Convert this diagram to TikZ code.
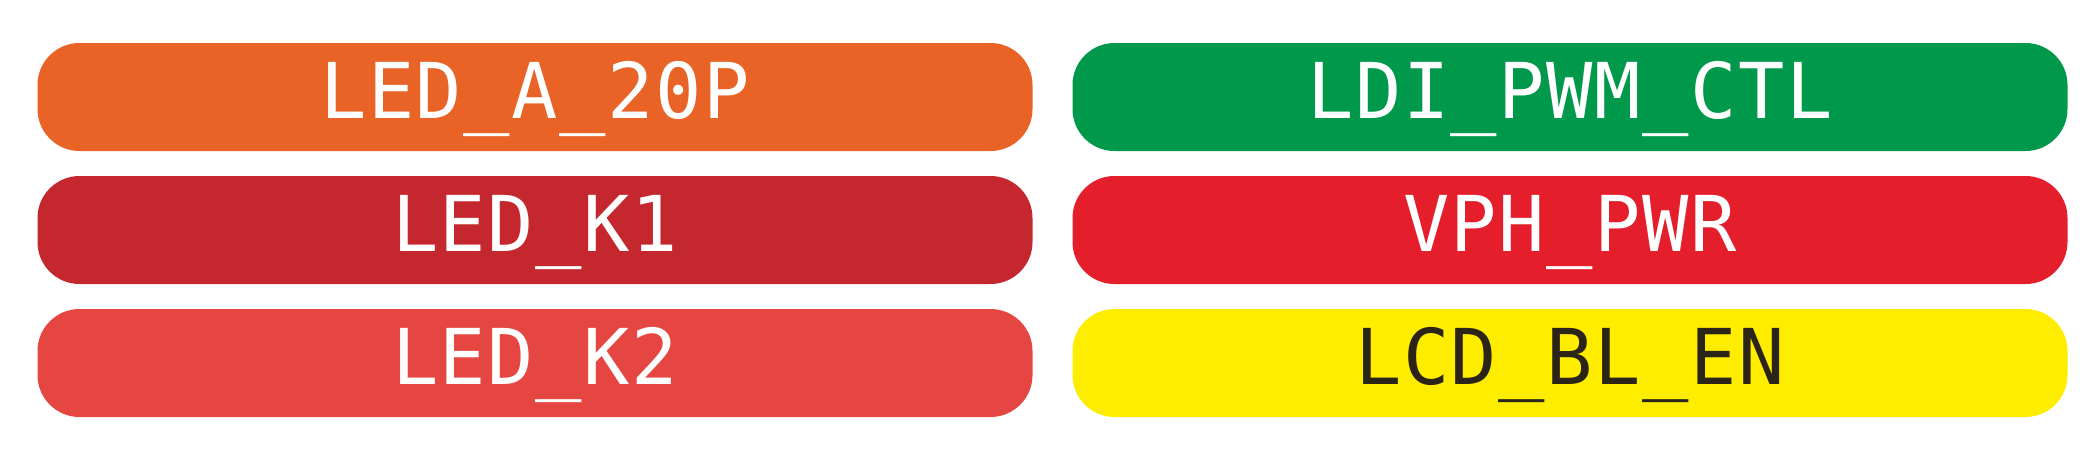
\documentclass[tikz,border=0pt]{standalone}
\usepackage{fontspec}
\newfontfamily\pinfont[LetterSpace=2]{DejaVu Sans Mono}
\usepackage{tikz}
\definecolor{ledA}{RGB}{233,98,38}
\definecolor{ledKa}{RGB}{196,40,46}
\definecolor{ledKb}{RGB}{230,70,65}
\definecolor{ldiG}{RGB}{0,153,75}
\definecolor{vphR}{RGB}{228,30,42}
\definecolor{lcdY}{RGB}{255,237,0}
\definecolor{lcdT}{RGB}{43,36,25}

\begin{document}
\begin{tikzpicture}[x=1pt,y=1pt,
    pill/.style={rounded corners=42pt,inner sep=0pt,minimum width=995pt,
      minimum height=108pt,text height=56pt,text depth=14pt,text=white,
      font=\pinfont\fontsize{77}{80}\selectfont}]
      \useasboundingbox (0,0) rectangle (2099,-456);

      \node[pill,fill=ledA]  (ledA)  at (535,-97)  {LED\_A\_20P};
      \node[pill,fill=ledKa] (ledKa) at (535,-230) {LED\_K1};
      \node[pill,fill=ledKb] (ledKb) at (535,-363) {LED\_K2};

      \node[pill,fill=ldiG]  (ldi)   at (1570,-97)  {LDI\_PWM\_CTL};
      \node[pill,fill=vphR]  (vph)   at (1570,-230) {VPH\_PWR};
      \node[pill,fill=lcdY,text=lcdT] (lcd) at (1570,-363) {LCD\_BL\_EN};
     \end{tikzpicture}
\end{document}
